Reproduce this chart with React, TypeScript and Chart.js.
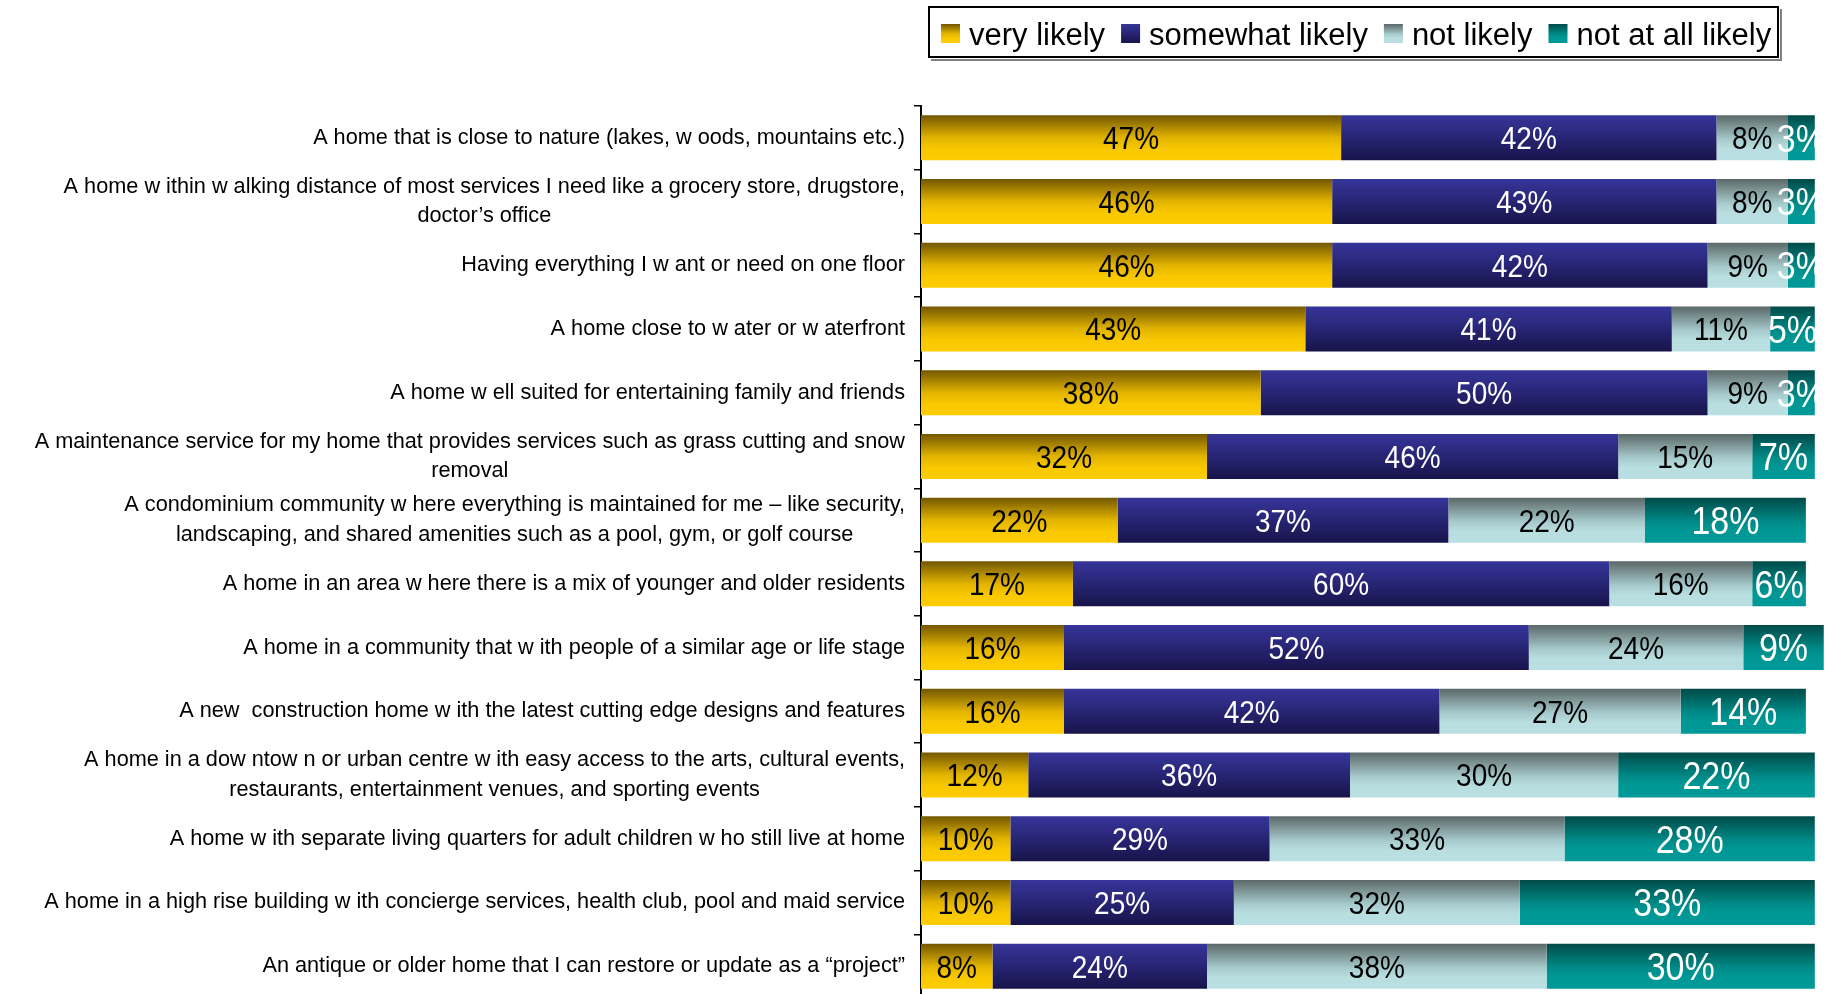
import React, { useEffect, useRef } from "react";
import { Chart, registerables } from "chart.js";

Chart.register(...registerables);

const FONT = '"Liberation Sans", Arial, Helvetica, sans-serif';

const categories: (string | string[])[] = [
  "A home that is close to nature (lakes, w oods, mountains etc.)",
  ["A home w ithin w alking distance of most services I need like a grocery store, drugstore,", "doctor’s office"],
  "Having everything I w ant or need on one floor",
  "A home close to w ater or w aterfront",
  "A home w ell suited for entertaining family and friends",
  ["A maintenance service for my home that provides services such as grass cutting and snow", "removal"],
  ["A condominium community w here everything is maintained for me – like security,", "landscaping, and shared amenities such as a pool, gym, or golf course"],
  "A home in an area w here there is a mix of younger and older residents",
  "A home in a community that w ith people of a similar age or life stage",
  "A new  construction home w ith the latest cutting edge designs and features",
  ["A home in a dow ntow n or urban centre w ith easy access to the arts, cultural events,", "restaurants, entertainment venues, and sporting events"],
  "A home w ith separate living quarters for adult children w ho still live at home",
  "A home in a high rise building w ith concierge services, health club, pool and maid service",
  "An antique or older home that I can restore or update as a “project”",
];

const seriesNames = ["very likely", "somewhat likely", "not likely", "not at all likely"];
const veryLikely = [47, 46, 46, 43, 38, 32, 22, 17, 16, 16, 12, 10, 10, 8];
const somewhatLikely = [42, 43, 42, 41, 50, 46, 37, 60, 52, 42, 36, 29, 25, 24];
const notLikely = [8, 8, 9, 11, 9, 15, 22, 16, 24, 27, 30, 33, 32, 38];
const notAtAllLikely = [3, 3, 3, 5, 3, 7, 18, 6, 9, 14, 22, 28, 33, 30];

const gradientStops: [number, string][][] = [
  [[0, "#735700"], [0.5, "#E2B400"], [0.75, "#F8C800"], [1, "#FFCC00"]],
  [[0, "#363599"], [0.35, "#2C2A80"], [1, "#17144A"]],
  [[0, "#5B6868"], [0.55, "#A8CCCE"], [0.75, "#B8DEE0"], [1, "#BADFE2"]],
  [[0, "#004B48"], [0.55, "#008C89"], [0.75, "#009896"], [1, "#009999"]],
];
const solidColors = ["#F0C000", "#2A2878", "#B8DEE0", "#009494"];
const labelColors = ["#000000", "#FFFFFF", "#000000", "#FFFFFF"];
const labelSizes = [28, 28, 28, 34];
const BAR_PCT = 0.706;
const SY = 1.14;

function makeGradient(ctx: CanvasRenderingContext2D, top: number, bottom: number, si: number) {
  const g = ctx.createLinearGradient(0, top, 0, bottom);
  gradientStops[si].forEach(([o, c]) => g.addColorStop(o, c));
  return g;
}

export default function App() {
  const ref = useRef<HTMLCanvasElement | null>(null);

  useEffect(() => {
    const canvas = ref.current;
    if (!canvas) return;
    const values = [veryLikely, somewhatLikely, notLikely, notAtAllLikely];

    const bg = (si: number) => (c: any) => {
      const chart = c.chart;
      const y = chart.scales && chart.scales.y;
      if (c.type !== "data" || !y || !chart.chartArea) return solidColors[si];
      const band = (y.bottom - y.top) / categories.length;
      const half = (band * BAR_PCT) / 2;
      const cy = y.getPixelForValue(c.dataIndex);
      return makeGradient(chart.ctx, cy - half, cy + half, si);
    };

    const labelsPlugin = {
      id: "customDraw",
      afterDatasetsDraw(chart: any) {
        const ctx: CanvasRenderingContext2D = chart.ctx;
        chart.data.datasets.forEach((ds: any, di: number) => {
          const meta = chart.getDatasetMeta(di);
          meta.data.forEach((bar: any, i: number) => {
            const v = ds.data[i];
            const p = bar.getProps(["x", "base", "y"], true);
            const cx = (p.x + p.base) / 2;
            const size = labelSizes[di];
            ctx.save();
            ctx.font = `${size}px ${FONT}`;
            ctx.fillStyle = labelColors[di];
            ctx.textAlign = "center";
            ctx.textBaseline = "alphabetic";
            ctx.translate(cx, p.y + (0.716 * size * SY) / 2);
            ctx.scale(1, SY);
            ctx.fillText(`${v}%`, 0, 0);
            ctx.restore();
          });
        });
      },
      afterDraw(chart: any) {
        const ctx: CanvasRenderingContext2D = chart.ctx;
        const y = chart.scales.y;
        // category labels
        ctx.save();
        ctx.font = `21.7px ${FONT}`;
        ctx.fillStyle = "#000";
        ctx.textBaseline = "middle";
        ctx.textAlign = "center";
        const right = 905;
        const lh = 29.5;
        categories.forEach((lab, i) => {
          const lines = Array.isArray(lab) ? lab : [lab];
          const cy = y.getPixelForTick(i);
          const widest = Math.max(...lines.map((l) => ctx.measureText(l).width));
          lines.forEach((l, j) => {
            const ly = cy + (j - (lines.length - 1) / 2) * lh;
            ctx.fillText(l, right - widest / 2, ly);
          });
        });
        ctx.restore();

        // legend
        ctx.save();
        const bx = 928, by = 6, bw = 851, bh = 52;
        ctx.strokeStyle = "#808080";
        ctx.lineWidth = 2;
        ctx.beginPath();
        ctx.moveTo(bx + 3, by + bh + 2);
        ctx.lineTo(bx + bw + 2, by + bh + 2);
        ctx.lineTo(bx + bw + 2, by + 3);
        ctx.stroke();
        ctx.strokeStyle = "#000";
        ctx.lineWidth = 2;
        ctx.strokeRect(bx + 1, by + 1, bw - 2, bh - 2);
        ctx.font = `31px ${FONT}`;
        ctx.textAlign = "left";
        ctx.textBaseline = "alphabetic";
        let x = 941;
        seriesNames.forEach((name, si) => {
          ctx.fillStyle = makeGradient(ctx, 24, 43, si);
          ctx.fillRect(x, 24, 19, 19);
          ctx.fillStyle = "#000";
          const tx = x + 28;
          ctx.fillText(name, tx, 45);
          x = tx + ctx.measureText(name).width + 16;
        });
        ctx.restore();
      },
    };

    const chart = new Chart(canvas, {
      type: "bar",
      data: {
        labels: categories.map((c) => (Array.isArray(c) ? c.join(" ") : c)),
        datasets: seriesNames.map((name, si) => ({
          label: name,
          data: values[si],
          backgroundColor: bg(si),
          borderWidth: 0,
          barPercentage: BAR_PCT,
          categoryPercentage: 1,
        })),
      },
      options: {
        indexAxis: "y",
        responsive: false,
        animation: false,
        layout: { padding: { top: 106, bottom: 2, left: 0, right: 0 } },
        plugins: { legend: { display: false }, tooltip: { enabled: false } },
        scales: {
          x: { stacked: true, min: 0, max: 101.7, display: false },
          y: {
            stacked: true,
            grid: {
              offset: true,
              drawOnChartArea: false,
              drawTicks: true,
              tickLength: 7,
              color: "#000",
              lineWidth: 1.5,
            },
            border: { display: true, color: "#000", width: 2 },
            ticks: { display: false },
            afterFit: (s: any) => {
              s.width = 921;
            },
          },
        },
      },
      plugins: [labelsPlugin],
    } as any);

    return () => chart.destroy();
  }, []);

  return (
    <div
      style={{
        position: "absolute",
        left: 0,
        top: 0,
        width: 1830,
        height: 994,
        overflow: "hidden",
        background: "#fff",
      }}
    >
      <canvas ref={ref} width={1830} height={1000} style={{ display: "block" }} />
    </div>
  );
}
